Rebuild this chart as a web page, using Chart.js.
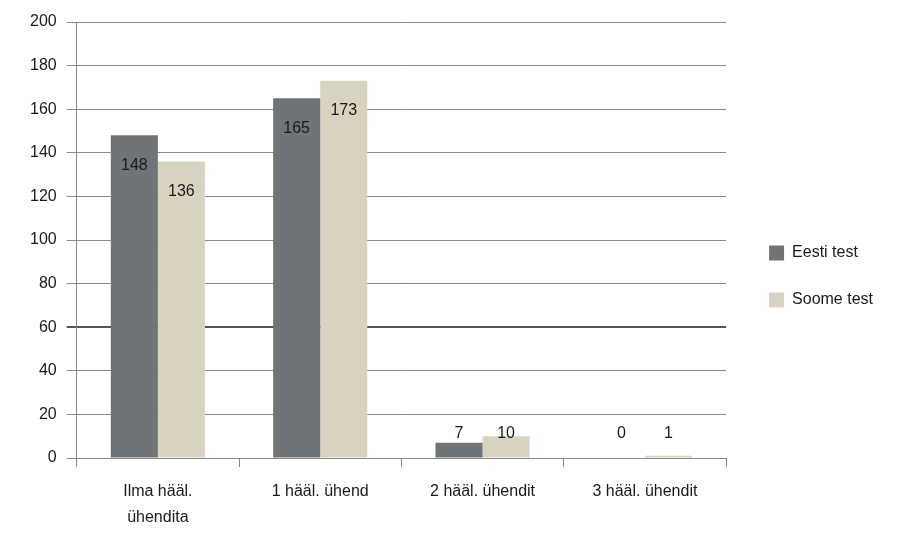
<!DOCTYPE html>
<html>
<head>
<meta charset="utf-8">
<script src="https://cdn.jsdelivr.net/npm/chart.js@4/dist/chart.umd.min.js"></script>
<style>
  html, body { margin: 0; padding: 0; background: #fff; }
  #wrap { width: 906px; height: 536px; position: relative; }
</style>
</head>
<body>
<div id="wrap"><canvas id="barChart"></canvas></div>
<script>
// categories and values
var kategooriad = [['Ilma hääl.', 'ühendita'], '1 hääl. ühend', '2 hääl. ühendit', '3 hääl. ühendit'];
var eestiTest = [148, 165, 7, 0];
var soomeTest = [136, 173, 10, 1];
var yTicks = [0, 20, 40, 60, 80, 100, 120, 140, 160, 180, 200];

var fontFam = '"Liberation Sans", Arial, sans-serif';

// value labels: inside the bar top, but kept above the axis for short bars
var valueLabels = {
  id: 'valueLabels',
  afterLayout: function(chart) {
    // nudge the legend away from the plot and a little up
    chart.legend.left += 12;
    chart.legend.right += 12;
    chart.legend.top -= 6;
    chart.legend.bottom -= 6;
  },
  afterDatasetsDraw: function(chart) {
    var ctx = chart.ctx;
    var zeroY = chart.scales.y.getPixelForValue(0);
    ctx.save();
    ctx.font = '16px ' + fontFam;
    ctx.fillStyle = '#1a1a1a';
    ctx.textAlign = 'center';
    ctx.textBaseline = 'middle';
    chart.data.datasets.forEach(function(ds, i) {
      chart.getDatasetMeta(i).data.forEach(function(bar, j) {
        var y = Math.min(bar.y + 30, zeroY - 24);
        ctx.fillText(String(ds.data[j]), bar.x, y);
      });
    });
    ctx.restore();
  }
};

var barChart = new Chart(document.getElementById('barChart').getContext('2d'), {
  type: 'bar',
  data: {
    labels: kategooriad,
    datasets: [
      { label: 'Eesti test', data: eestiTest, backgroundColor: '#6f7478', borderWidth: 0 },
      { label: 'Soome test', data: soomeTest, backgroundColor: '#d8d3c1', borderWidth: 0 }
    ]
  },
  options: {
    responsive: true,
    maintainAspectRatio: false,
    animation: false,
    layout: { padding: { left: 20, top: 22, right: 35, bottom: -7 } },
    datasets: { bar: { categoryPercentage: 0.58, barPercentage: 1.0 } },
    plugins: {
      tooltip: { enabled: false },
      legend: {
        position: 'right',
        align: 'center',
        labels: {
          boxWidth: 15,
          boxHeight: 15,
          padding: 31,
          color: '#1a1a1a',
          font: { family: fontFam, size: 16 }
        }
      }
    },
    scales: {
      x: {
        grid: {
          offset: true,
          drawOnChartArea: false,
          color: '#888',
          tickLength: 9
        },
        border: { color: '#888', width: 1 },
        ticks: {
          color: '#1a1a1a',
          maxRotation: 0,
          autoSkip: false,
          padding: 12,
          font: { family: fontFam, size: 16, lineHeight: '26px' }
        }
      },
      y: {
        min: 0,
        max: 200,
        afterBuildTicks: function(axis) {
          axis.ticks = yTicks.map(function(v) { return { value: v }; });
        },
        grid: {
          color: function(c) { return c.tick && c.tick.value === 60 ? '#555' : '#8a8a8a'; },
          lineWidth: function(c) { return c.tick && c.tick.value === 60 ? 2 : 1; },
          tickLength: 10
        },
        border: { color: '#888', width: 1 },
        ticks: {
          color: '#1a1a1a',
          padding: 10,
          font: { family: fontFam, size: 16 }
        }
      }
    }
  },
  plugins: [valueLabels]
});
</script>
</body>
</html>
